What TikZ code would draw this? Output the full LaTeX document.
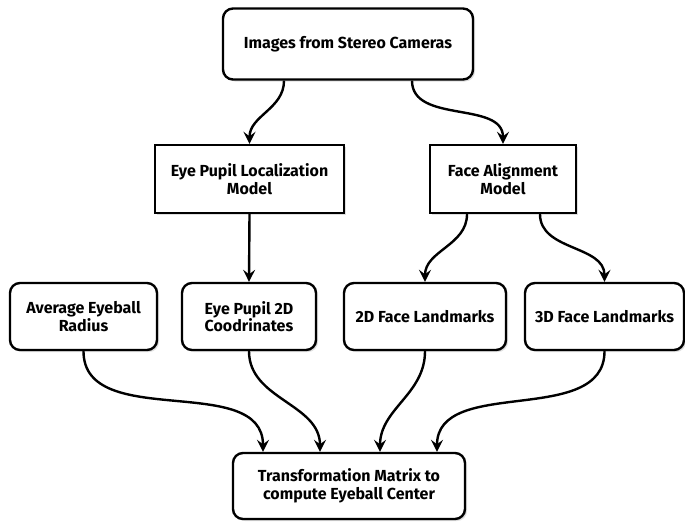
\documentclass[tikz,border=0pt]{standalone}
\usepackage{fontspec}
\setmainfont{Fira Sans}
\usetikzlibrary{arrows.meta,shadows}
\begin{document}
\begin{tikzpicture}[x=1pt,y=1pt,
  font=\fontsize{16}{17.5}\selectfont\bfseries,
  box/.style={draw,line width=2.4pt,fill=white,align=center,inner sep=2pt,
    minimum height=68pt,
    drop shadow={shadow xshift=2pt,shadow yshift=-2pt,opacity=0.25}},
  rbox/.style={box,rounded corners=10pt},
  flow/.style={line width=2.4pt,-{Stealth[length=12pt,width=12pt,inset=4.5pt]}}]
 \useasboundingbox (0,0) rectangle (685,-525);
 % top level
 \node[rbox,minimum width=250pt,minimum height=71pt] (images) at (348,-44) {Images from Stereo Cameras};
 % models
 \node[box,minimum width=189pt] (eyeloc) at (249.5,-179) {Eye Pupil Localization\\Model};
 \node[box,minimum width=146pt] (facealign) at (503,-179) {Face Alignment\\Model};
 % intermediate results
 \node[rbox,minimum width=147pt,minimum height=67pt] (avgradius) at (83.5,-316.5) {Average Eyeball\\Radius};
 \node[rbox,minimum width=134pt,minimum height=67pt] (eyecoord) at (249,-316.5) {Eye Pupil 2D\\Coodrinates};
 \node[rbox,minimum width=162pt,minimum height=67pt] (landmarks2d) at (425,-316.5) {2D Face Landmarks};
 \node[rbox,minimum width=159pt,minimum height=67pt] (landmarks3d) at (604.5,-316.5) {3D Face Landmarks};
 % result
 \node[rbox,minimum width=232pt,minimum height=66pt] (transform) at (349,-486) {Transformation Matrix to\\compute Eyeball Center};

 \draw[flow] ([xshift=-64pt]images.south) to[out=-90,in=90] (eyeloc.north);
 \draw[flow] ([xshift=64pt]images.south) to[out=-90,in=90] (facealign.north);
 \draw[flow] (eyeloc.south) -- (eyecoord.north);
 \draw[flow] ([xshift=-36pt]facealign.south) to[out=-90,in=90] (landmarks2d.north);
 \draw[flow] ([xshift=37pt]facealign.south) to[out=-90,in=90] (landmarks3d.north);
 \draw[flow] (avgradius.south) to[out=-90,in=90] ([xshift=-86pt]transform.north);
 \draw[flow] (eyecoord.south) to[out=-90,in=90] ([xshift=-29pt]transform.north);
 \draw[flow] (landmarks2d.south) to[out=-90,in=90] ([xshift=31pt]transform.north);
 \draw[flow] (landmarks3d.south) to[out=-90,in=90] ([xshift=88pt]transform.north);
\end{tikzpicture}
\end{document}
